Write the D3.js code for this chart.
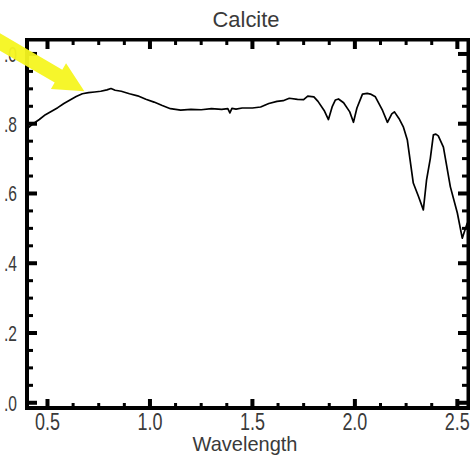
<!DOCTYPE html>
<html><head><meta charset="utf-8">
<script src="https://cdn.jsdelivr.net/npm/d3@7"></script>
<style>
html,body{margin:0;padding:0;background:#fff;}
svg{display:block;}
.lbl{font-family:"Liberation Sans",Arial,sans-serif;fill:#3a3a3a;}
</style></head>
<body>
<svg id="c" width="471" height="455"></svg>
<script>
// ---- data ----
const wavelength = [0.40,0.43,0.46,0.49,0.52,0.55,0.58,0.61,0.64,0.67,0.70,0.73,0.76,0.79,0.81,0.83,0.86,0.90,0.94,0.98,1.02,1.06,1.10,1.15,1.20,1.25,1.30,1.35,1.38,1.39,1.40,1.42,1.45,1.50,1.54,1.58,1.62,1.65,1.68,1.72,1.75,1.77,1.80,1.82,1.85,1.871,1.89,1.905,1.92,1.945,1.975,1.993,2.01,2.037,2.06,2.076,2.10,2.135,2.159,2.18,2.193,2.215,2.237,2.256,2.285,2.31,2.334,2.35,2.368,2.383,2.395,2.407,2.432,2.466,2.50,2.524,2.549];
const reflectance = [0.785,0.800,0.812,0.826,0.836,0.846,0.858,0.868,0.878,0.886,0.889,0.891,0.893,0.897,0.901,0.896,0.893,0.886,0.880,0.870,0.862,0.852,0.843,0.839,0.841,0.840,0.843,0.841,0.843,0.831,0.844,0.842,0.845,0.845,0.848,0.858,0.864,0.866,0.873,0.870,0.869,0.879,0.877,0.864,0.838,0.812,0.850,0.868,0.871,0.860,0.834,0.804,0.845,0.885,0.887,0.885,0.877,0.838,0.804,0.828,0.834,0.815,0.790,0.753,0.630,0.592,0.553,0.640,0.700,0.768,0.770,0.765,0.733,0.619,0.544,0.472,0.516];
const xMajorTicks = [0.5,1.0,1.5,2.0,2.5];
const xTickLabels = ["0.5","1.0","1.5","2.0","2.5"];
const xMinorTicks = [0.625,0.75,0.875,1.125,1.25,1.375,1.625,1.75,1.875,2.125,2.25,2.375];
const yMajorTicks = [0.0,0.2,0.4,0.6,0.8,1.0];
const yTickLabels = [".0",".2",".4",".6",".8",".0"];
const yMinorTicks = [0.05,0.1,0.15,0.25,0.3,0.35,0.45,0.5,0.55,0.65,0.7,0.75,0.85,0.9,0.95];
const titleText = "Calcite";
const xTitle = "Wavelength";
const arrowFrom = [0.22, 1.051];
const arrowTo = [0.68, 0.893];

// ---- layout ----
const svg = d3.select("#c");
const L=27, R=468, T=40, B=408;
const xs = d3.scaleLinear().domain([0.4, 2.552]).range([L, R]);
const ys = d3.scaleLinear().domain([-0.015, 1.04]).range([B, T]);

// curve
svg.append("defs").append("clipPath").attr("id","clip").append("rect").attr("x",L).attr("y",T).attr("width",R-L).attr("height",B-T);
const pts = wavelength.map((w,i)=>[w,reflectance[i]]);
svg.append("path").datum(pts).attr("clip-path","url(#clip)")
  .attr("d", d3.line().x(d=>xs(d[0])).y(d=>ys(d[1])))
  .attr("fill","none").attr("stroke","#000").attr("stroke-width",1.7).attr("stroke-linejoin","round");

// tick labels
svg.append("g").selectAll("text").data(xMajorTicks).join("text").attr("class","lbl")
  .attr("x",d=>xs(d)).attr("y",430).attr("text-anchor","middle").style("font-size","23px")
  .attr("textLength",25).attr("lengthAdjust","spacingAndGlyphs")
  .text((d,i)=>xTickLabels[i]);
svg.append("g").selectAll("text").data(yMajorTicks).join("text").attr("class","lbl")
  .attr("x",17).attr("y",d=>ys(d)+8).attr("text-anchor","end").style("font-size","22px")
  .attr("textLength",13).attr("lengthAdjust","spacingAndGlyphs")
  .text((d,i)=>yTickLabels[i]);

// titles
svg.append("text").attr("class","lbl").attr("x",246).attr("y",27).attr("text-anchor","middle")
  .style("font-size","22px").attr("textLength",67).attr("lengthAdjust","spacingAndGlyphs").text(titleText);
svg.append("text").attr("class","lbl").attr("x",245).attr("y",451).attr("text-anchor","middle")
  .style("font-size","21px").attr("textLength",105).attr("lengthAdjust","spacingAndGlyphs").text(xTitle);

// frame (filled rects)
const fr = svg.append("g").attr("fill","#000");
fr.append("rect").attr("x",L-2).attr("y",B-2).attr("width",R-L+4).attr("height",4);
fr.append("rect").attr("x",L-2).attr("y",T-2).attr("width",R-L+4).attr("height",3.5);
fr.append("rect").attr("x",L-2).attr("y",T-2).attr("width",4).attr("height",B-T+4);
fr.append("rect").attr("x",R-1.5).attr("y",T-2).attr("width",3.5).attr("height",B-T+4);

// ticks as filled rects, positioned through the scales
function xTicks(vals, tl, w){
  svg.append("g").selectAll("rect").data(vals).join("rect")
    .attr("x",d=>xs(d)-w/2).attr("y",B-tl).attr("width",w).attr("height",tl).attr("fill","#000");
  svg.append("g").selectAll("rect").data(vals).join("rect")
    .attr("x",d=>xs(d)-w/2).attr("y",T).attr("width",w).attr("height",tl).attr("fill","#000");
}
function yTicks(vals, tl, w){
  svg.append("g").selectAll("rect").data(vals).join("rect")
    .attr("x",L).attr("y",d=>ys(d)-w/2).attr("width",tl).attr("height",w).attr("fill","#000");
  svg.append("g").selectAll("rect").data(vals).join("rect")
    .attr("x",R-tl).attr("y",d=>ys(d)-w/2).attr("width",tl).attr("height",w).attr("fill","#000");
}
xTicks(xMajorTicks, 9, 4); xTicks(xMinorTicks, 5, 3);
yTicks(yMajorTicks, 10, 4); yTicks(yMinorTicks, 6, 3);

// yellow arrow annotation
const p0=[xs(arrowFrom[0]),ys(arrowFrom[1])], p1=[xs(arrowTo[0]),ys(arrowTo[1])];
const adx=p1[0]-p0[0], ady=p1[1]-p0[1], alen=Math.hypot(adx,ady), ux=adx/alen, uy=ady/alen, nx=-uy, ny=ux;
const sw=7.5, hw=15, hl=30;
const bx=p1[0]-ux*hl, by=p1[1]-uy*hl;
const poly=[[p0[0]+nx*sw,p0[1]+ny*sw],[bx+nx*sw,by+ny*sw],[bx+nx*hw,by+ny*hw],p1,[bx-nx*hw,by-ny*hw],[bx-nx*sw,by-ny*sw],[p0[0]-nx*sw,p0[1]-ny*sw]];
svg.append("path").attr("d","M"+poly.map(p=>p.join(",")).join("L")+"Z").attr("fill","#f6f620").attr("opacity",0.95);
</script>
</body></html>
